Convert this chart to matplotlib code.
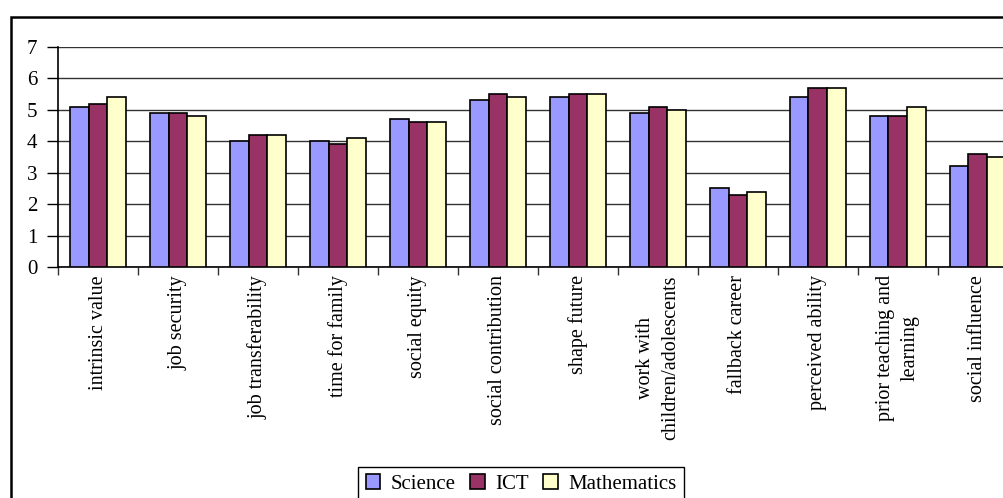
import matplotlib
matplotlib.use("Agg")
import matplotlib.pyplot as plt
import numpy as np
from matplotlib.patches import Rectangle

plt.rcParams['font.family'] = ['Liberation Serif', 'DejaVu Serif']

# data
categories = ['intrinsic value', 'job security', 'job transferability', 'time for family',
              'social equity', 'social contribution', 'shape future',
              'work with\nchildren/adolescents', 'fallback career', 'perceived ability',
              'prior teaching and\nlearning', 'social influence']
science = [5.1, 4.9, 4.0, 4.0, 4.7, 5.3, 5.4, 4.9, 2.5, 5.4, 4.8, 3.2]
ict = [5.2, 4.9, 4.2, 3.9, 4.6, 5.5, 5.5, 5.1, 2.3, 5.7, 4.8, 3.6]
maths = [5.4, 4.8, 4.2, 4.1, 4.6, 5.4, 5.5, 5.0, 2.4, 5.7, 5.1, 3.5]
series_names = ['Science', 'ICT', 'Mathematics']
colors = ['#9999FF', '#993366', '#FFFFCC']
y_ticks = [0, 1, 2, 3, 4, 5, 6, 7]

fig = plt.figure(figsize=(10.04, 4.98), dpi=100)
ax = fig.add_axes([0.0578, 0.4639, 0.956, 0.4418])

x = np.arange(len(categories))
w = 0.235
for i, (vals, name, c) in enumerate(zip([science, ict, maths], series_names, colors)):
    ax.bar(x + (i - 1) * w, vals, width=w, color=c, edgecolor='black',
           linewidth=1.2, label=name, zorder=3)

ax.set_xlim(-0.5, len(categories) - 0.5)
ax.set_ylim(0, 7)
ax.set_yticks(y_ticks)
ax.grid(axis='y', color='#333333', linewidth=1.0, zorder=0)
ax.set_axisbelow(True)

# category labels at centers, tick marks at category boundaries
ax.set_xticks(x)
ax.set_xticklabels(categories, rotation=90, ha='center', va='top',
                   multialignment='center', fontsize=14.5, linespacing=1.45)
ax.set_xticks(np.arange(len(categories) + 1) - 0.5, minor=True)
ax.tick_params(axis='x', which='major', length=0, pad=6)
ax.tick_params(axis='x', which='minor', length=6, width=1, color='#333333')
ax.tick_params(axis='y', length=8, width=1, pad=7, labelsize=15)

for s in ['top', 'right']:
    ax.spines[s].set_visible(False)
ax.spines['left'].set_linewidth(1.2)
ax.spines['bottom'].set_linewidth(1.2)

leg = fig.legend(loc='upper center', bbox_to_anchor=(0.519, 0.062), ncol=3,
                 fontsize=15, frameon=True, fancybox=False, framealpha=1,
                 edgecolor='black', handlelength=0.7, handleheight=0.7,
                 handletextpad=0.5, columnspacing=0.7, borderpad=0.35,
                 borderaxespad=0)
leg.get_frame().set_linewidth(1.0)

# outer chart border (cut off at right and bottom)
fig.patches.append(Rectangle((0.0105, -0.2), 1.3, 0.966 + 0.2, transform=fig.transFigure,
                             fill=False, edgecolor='black', linewidth=1.8))

fig.savefig('out.png', dpi=100)
